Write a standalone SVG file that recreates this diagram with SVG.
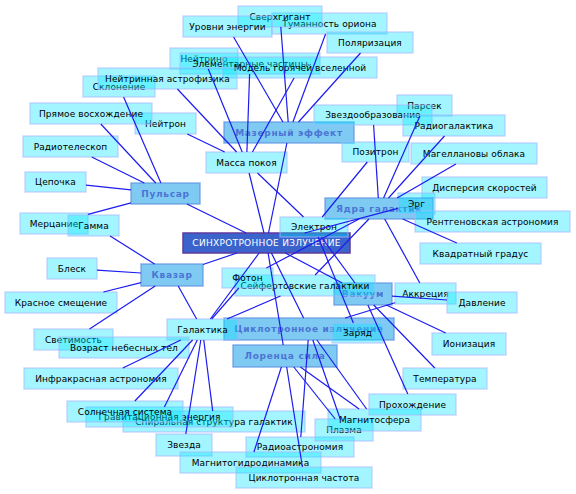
<svg xmlns="http://www.w3.org/2000/svg" width="576" height="494" viewBox="0 0 576 494">
<style>
text{font-family:"DejaVu Sans",sans-serif;font-size:9px;text-anchor:middle}
.n rect{fill:#00e5ff;fill-opacity:0.36;stroke:#a8b8ff;stroke-opacity:0.55;stroke-width:1.5}
.n text{fill:#000;letter-spacing:0.1px}
.h rect{fill:#0096e6;fill-opacity:0.5;stroke:#5a90e0;stroke-opacity:0.7;stroke-width:1.5}
.h text{fill:#4a74d4;font-weight:bold;letter-spacing:0.7px}
.c rect{fill:#3a64cc;stroke:#603a9c;stroke-width:1.5}
.c text{fill:#fff;letter-spacing:0.3px}
#edges line{stroke:#1c1cf0;stroke-width:1.2}
</style>
<rect width="576" height="494" fill="#fff"/>
<g id="n-tumannost" class="n"><rect x="272" y="13" width="115" height="21"/><text x="329.5" y="26.7">Туманность ориона</text></g>
<g id="n-sverkh" class="n"><rect x="238" y="6" width="84" height="21"/><text x="280" y="19.7">Сверхгигант</text></g>
<g id="n-urovni" class="n"><rect x="183" y="16" width="89" height="21"/><text x="227.5" y="29.7">Уровни энергии</text></g>
<g id="n-polyar" class="n"><rect x="327" y="32" width="86" height="21"/><text x="370" y="45.7">Поляризация</text></g>
<g id="n-neitrino" class="n"><rect x="170" y="48" width="68" height="21"/><text x="204" y="61.7">Нейтрино</text></g>
<g id="n-element" class="n"><rect x="180" y="53" width="140" height="21"/><text x="250" y="66.7">Элементарные частицы</text></g>
<g id="n-model" class="n"><rect x="223" y="57" width="154" height="21"/><text x="300" y="70.7">Модель горячей вселенной</text></g>
<g id="n-sklon" class="n"><rect x="83" y="76" width="72" height="21"/><text x="119" y="89.7">Склонение</text></g>
<g id="n-neitrastro" class="n"><rect x="98" y="68" width="139" height="21"/><text x="167.5" y="81.7">Нейтринная астрофизика</text></g>
<g id="n-neitron" class="n"><rect x="135" y="113" width="61" height="21"/><text x="165.5" y="126.7">Нейтрон</text></g>
<g id="n-pryamoe" class="n"><rect x="30" y="103" width="122" height="21"/><text x="91" y="116.7">Прямое восхождение</text></g>
<g id="n-radiotel" class="n"><rect x="23" y="136" width="95" height="21"/><text x="70.5" y="149.7">Радиотелескоп</text></g>
<g id="n-cepochka" class="n"><rect x="25" y="172" width="61" height="20"/><text x="55.5" y="185.2">Цепочка</text></g>
<g id="n-massa" class="n"><rect x="206" y="152" width="81" height="21"/><text x="246.5" y="165.7">Масса покоя</text></g>
<g id="h-mazer" class="h"><rect x="224" y="122" width="130" height="21"/><text x="289" y="135.8">Мазерный эффект</text></g>
<g id="n-parsek" class="n"><rect x="397" y="95" width="55" height="21"/><text x="424.5" y="108.7">Парсек</text></g>
<g id="n-zvezdoobr" class="n"><rect x="314" y="105" width="118" height="20"/><text x="373" y="118.2">Звездообразование</text></g>
<g id="n-radiogal" class="n"><rect x="403" y="115" width="102" height="21"/><text x="454" y="128.7">Радиогалактика</text></g>
<g id="n-pozitron" class="n"><rect x="342" y="142" width="67" height="20"/><text x="375.5" y="155.2">Позитрон</text></g>
<g id="n-magell" class="n"><rect x="411" y="143" width="126" height="21"/><text x="474" y="156.7">Магеллановы облака</text></g>
<g id="n-dispers" class="n"><rect x="422" y="177" width="125" height="21"/><text x="484.5" y="190.7">Дисперсия скоростей</text></g>
<g id="h-yadra" class="h"><rect x="325" y="198" width="108" height="21"/><text x="379" y="211.8">Ядра галактик</text></g>
<g id="n-erg" class="n"><rect x="398" y="193" width="37" height="21"/><text x="416.5" y="206.7">Эрг</text></g>
<g id="n-rentgen" class="n"><rect x="415" y="211" width="155" height="21"/><text x="492.5" y="224.7">Рентгеновская астрономия</text></g>
<g id="n-kvadrat" class="n"><rect x="420" y="243" width="121" height="21"/><text x="480.5" y="256.7">Квадратный градус</text></g>
<g id="h-pulsar" class="h"><rect x="131" y="183" width="69" height="21"/><text x="165.5" y="196.8">Пульсар</text></g>
<g id="n-mercanie" class="n"><rect x="20" y="213" width="68" height="21"/><text x="54" y="226.7">Мерцание</text></g>
<g id="n-gamma" class="n"><rect x="68" y="215" width="51" height="21"/><text x="93.5" y="228.7">Гамма</text></g>
<g id="c-sinkh" class="c"><rect x="183" y="233" width="167" height="20"/><text x="266.5" y="246.3">СИНХРОТРОННОЕ ИЗЛУЧЕНИЕ</text></g>
<g id="n-elektron" class="n"><rect x="280" y="217" width="68" height="20"/><text x="314" y="230.2">Электрон</text></g>
<g id="h-kvazar" class="h"><rect x="141" y="264" width="62" height="22"/><text x="172" y="278.3">Квазар</text></g>
<g id="n-blesk" class="n"><rect x="47" y="258" width="50" height="21"/><text x="72" y="271.7">Блеск</text></g>
<g id="n-krasnoe" class="n"><rect x="5" y="292" width="112" height="21"/><text x="61" y="305.7">Красное смещение</text></g>
<g id="h-vakuum" class="h"><rect x="334" y="283" width="58" height="22"/><text x="363" y="297.3">Вакуум</text></g>
<g id="n-seifert" class="n"><rect x="235" y="275" width="140" height="21"/><text x="305" y="288.7">Сейфертовские галактики</text></g>
<g id="n-foton" class="n"><rect x="222" y="268" width="51" height="20"/><text x="247.5" y="281.2">Фотон</text></g>
<g id="n-akkrec" class="n"><rect x="395" y="283" width="61" height="21"/><text x="425.5" y="296.7">Аккреция</text></g>
<g id="n-davlenie" class="n"><rect x="447" y="292" width="70" height="21"/><text x="482" y="305.7">Давление</text></g>
<g id="h-ciklo" class="h"><rect x="224" y="318" width="170" height="22"/><text x="309" y="332.3">Циклотронное излучение</text></g>
<g id="n-zaryad" class="n"><rect x="332" y="323" width="51" height="20"/><text x="357.5" y="336.2">Заряд</text></g>
<g id="h-lorenc" class="h"><rect x="233" y="345" width="104" height="22"/><text x="285" y="359.3">Лоренца сила</text></g>
<g id="n-galaktika" class="n"><rect x="167" y="319" width="71" height="21"/><text x="202.5" y="332.7">Галактика</text></g>
<g id="n-svetim" class="n"><rect x="34" y="329" width="79" height="21"/><text x="73.5" y="342.7">Светимость</text></g>
<g id="n-vozrast" class="n"><rect x="59" y="337" width="130" height="21"/><text x="124" y="350.7">Возраст небесных тел</text></g>
<g id="n-ioniz" class="n"><rect x="432" y="333" width="74" height="22"/><text x="469" y="347.2">Ионизация</text></g>
<g id="n-temper" class="n"><rect x="403" y="368" width="84" height="21"/><text x="445" y="381.7">Температура</text></g>
<g id="n-infra" class="n"><rect x="24" y="368" width="154" height="21"/><text x="101" y="381.7">Инфракрасная астрономия</text></g>
<g id="n-spiral" class="n"><rect x="123" y="411" width="182" height="21"/><text x="214" y="424.7">Спиральная структура галактик</text></g>
<g id="n-gravit" class="n"><rect x="86" y="407" width="147" height="20"/><text x="159.5" y="420.2">Гравитационная энергия</text></g>
<g id="n-solnech" class="n"><rect x="67" y="401" width="116" height="21"/><text x="125" y="414.7">Солнечная система</text></g>
<g id="n-zvezda" class="n"><rect x="156" y="434" width="56" height="22"/><text x="184" y="448.2">Звезда</text></g>
<g id="n-radioastr" class="n"><rect x="246" y="437" width="108" height="20"/><text x="300" y="450.2">Радиоастрономия</text></g>
<g id="n-mgd" class="n"><rect x="180" y="452" width="141" height="21"/><text x="250.5" y="465.7">Магнитогидродинамика</text></g>
<g id="n-ciklchast" class="n"><rect x="236" y="467" width="136" height="21"/><text x="304" y="480.7">Циклотронная частота</text></g>
<g id="n-plazma" class="n"><rect x="315" y="419" width="58" height="22"/><text x="344" y="433.2">Плазма</text></g>
<g id="n-magnitosf" class="n"><rect x="328" y="409" width="93" height="22"/><text x="374.5" y="423.2">Магнитосфера</text></g>
<g id="n-prokhozh" class="n"><rect x="369" y="394" width="87" height="21"/><text x="412.5" y="407.7">Прохождение</text></g>
<g id="edges">
<line x1="123.6" y1="97" x2="160.9" y2="183"/>
<line x1="100.8" y1="124" x2="155.7" y2="183"/>
<line x1="91.7" y1="157" x2="144.3" y2="183"/>
<line x1="86" y1="185.2" x2="131" y2="189.9"/>
<line x1="88" y1="214.4" x2="131" y2="202.8"/>
<line x1="186.9" y1="204" x2="246.1" y2="233"/>
<line x1="110.1" y1="236" x2="154.6" y2="264"/>
<line x1="97" y1="270.1" x2="141" y2="273"/>
<line x1="103.4" y1="292" x2="141" y2="282.7"/>
<line x1="89.5" y1="329" x2="155.2" y2="286"/>
<line x1="178.2" y1="286" x2="196.6" y2="319"/>
<line x1="203" y1="264.5" x2="237" y2="253"/>
<line x1="233.6" y1="37" x2="282.9" y2="122"/>
<line x1="280.8" y1="27" x2="288.2" y2="122"/>
<line x1="325.6" y1="34" x2="292.9" y2="122"/>
<line x1="360.5" y1="53" x2="298.5" y2="122"/>
<line x1="286.9" y1="143" x2="268.5" y2="233"/>
<line x1="177.4" y1="89" x2="236.6" y2="152"/>
<line x1="208.3" y1="69" x2="242.2" y2="152"/>
<line x1="249.6" y1="74" x2="246.9" y2="152"/>
<line x1="294.1" y1="78" x2="252.4" y2="152"/>
<line x1="187.3" y1="134" x2="224.7" y2="152"/>
<line x1="249.1" y1="173" x2="264" y2="233"/>
<line x1="257.5" y1="173" x2="303.5" y2="217"/>
<line x1="373.6" y1="125" x2="378.3" y2="198"/>
<line x1="419.9" y1="116" x2="383.6" y2="198"/>
<line x1="444.5" y1="136" x2="388.5" y2="198"/>
<line x1="455.9" y1="164" x2="397.1" y2="198"/>
<line x1="402.7" y1="219" x2="456.8" y2="243"/>
<line x1="266.4" y1="268" x2="359.1" y2="219"/>
<line x1="315.1" y1="275" x2="368.9" y2="219"/>
<line x1="384.7" y1="219" x2="419.8" y2="283"/>
<line x1="367.3" y1="162" x2="322.2" y2="217"/>
<line x1="304.5" y1="233" x2="398" y2="208.4"/>
<line x1="318.1" y1="237" x2="353.4" y2="323"/>
<line x1="321.3" y1="237" x2="355" y2="283"/>
<line x1="285.4" y1="253" x2="342.2" y2="283"/>
<line x1="392" y1="296.1" x2="447" y2="300"/>
<line x1="386.3" y1="305" x2="445.7" y2="333"/>
<line x1="373.7" y1="305" x2="434.8" y2="368"/>
<line x1="367.9" y1="305" x2="407.8" y2="394"/>
<line x1="395" y1="302.8" x2="345.1" y2="318"/>
<line x1="200.8" y1="340" x2="185.8" y2="434"/>
<line x1="192.6" y1="340" x2="134.9" y2="401"/>
<line x1="197.3" y1="340" x2="164.4" y2="407"/>
<line x1="203.8" y1="340" x2="212.7" y2="411"/>
<line x1="180.8" y1="340" x2="122.8" y2="368"/>
<line x1="259.1" y1="253" x2="210.3" y2="319"/>
<line x1="280.5" y1="296" x2="227" y2="319"/>
<line x1="211.7" y1="319" x2="238.8" y2="288"/>
<line x1="268.1" y1="253" x2="283.2" y2="345"/>
<line x1="271.4" y1="253" x2="303.6" y2="318"/>
<line x1="281.4" y1="367" x2="253.9" y2="452"/>
<line x1="286.7" y1="367" x2="302.4" y2="467"/>
<line x1="300.4" y1="367" x2="359.1" y2="409"/>
<line x1="293.8" y1="367" x2="335.2" y2="419"/>
<line x1="308.2" y1="340" x2="300.8" y2="437"/>
<line x1="316.9" y1="340" x2="366.6" y2="409"/>
<line x1="312.8" y1="340" x2="340.2" y2="419"/>
</g>
</svg>
